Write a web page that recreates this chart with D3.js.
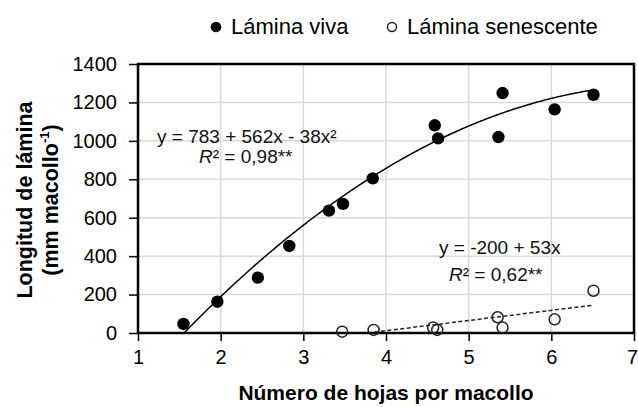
<!DOCTYPE html>
<html>
<head>
<meta charset="utf-8">
<script src="https://cdn.jsdelivr.net/npm/d3@7"></script>
<style>
  html, body { margin: 0; padding: 0; background: #fff; }
  svg { display: block; font-family: "Liberation Sans", Arial, sans-serif; }
</style>
</head>
<body>
<svg id="chart" width="638" height="407"></svg>
<script>
// Leaf blade length vs. number of leaves per tiller
const vivaX = [1.55, 1.96, 2.45, 2.83, 3.31, 3.48, 3.84, 4.59, 4.63, 5.36, 5.41, 6.04, 6.51];
const vivaY = [47, 163, 288, 453, 637, 672, 805, 1081, 1013, 1020, 1249, 1164, 1240];
const senX = [3.47, 3.85, 4.57, 4.62, 5.35, 5.41, 6.04, 6.51];
const senY = [7, 16, 28, 16, 82, 28, 71, 220];

// Fitted trends: quadratic for live blades, linear for senescent blades
const quadCoef = [-783, 562, -38];
const linCoef = [-200, 53];

const xTicks = [1, 2, 3, 4, 5, 6, 7];
const yTicks = [0, 200, 400, 600, 800, 1000, 1200, 1400];
const legendLabels = ["Lámina viva", "Lámina senescente"];

const svg = d3.select("#chart");
const plotL = 138, plotR = 634, plotT = 64, plotB = 333;

const x = d3.scaleLinear().domain([1, 7]).range([plotL, plotR]);
const y = d3.scaleLinear().domain([0, 1400]).range([plotB, plotT]);

// Clip region for trend lines
svg.append("defs").append("clipPath").attr("id", "plotClip")
  .append("rect").attr("x", plotL).attr("y", plotT)
  .attr("width", plotR - plotL).attr("height", plotB - plotT);

// Gridlines
const grid = svg.append("g");
grid.selectAll("line.h").data(yTicks.slice(1, -1)).join("line")
  .attr("class", "h")
  .attr("x1", plotL).attr("x2", plotR)
  .attr("y1", d => y(d)).attr("y2", d => y(d))
  .attr("stroke", "#d9d9d9").attr("stroke-width", 1.5);
grid.selectAll("line.v").data(xTicks.slice(1, -1)).join("line")
  .attr("class", "v")
  .attr("y1", plotT).attr("y2", plotB)
  .attr("x1", d => x(d)).attr("x2", d => x(d))
  .attr("stroke", "#d9d9d9").attr("stroke-width", 1.5);

// Axes (ticks and labels)
const xAxis = svg.append("g").attr("transform", `translate(0,${plotB})`)
  .call(d3.axisBottom(x).tickValues(xTicks).tickSize(8).tickPadding(9).tickFormat(d3.format("d")));
xAxis.select(".domain").remove();
xAxis.selectAll("line").attr("stroke", "#000").attr("stroke-width", 1.5);
xAxis.selectAll("text").attr("font-size", 20).attr("fill", "#000")
  .attr("font-family", "Liberation Sans, Arial, sans-serif");
// keep the last label inside the canvas
xAxis.selectAll(".tick").filter(d => d === 7).select("text").attr("dx", -2);

const yAxis = svg.append("g").attr("transform", `translate(${plotL},0)`)
  .call(d3.axisLeft(y).tickValues(yTicks).tickSize(9).tickPadding(12).tickFormat(d3.format("d")));
yAxis.select(".domain").remove();
yAxis.selectAll("line").attr("stroke", "#000").attr("stroke-width", 1.5);
yAxis.selectAll("text").attr("font-size", 20).attr("fill", "#000")
  .attr("font-family", "Liberation Sans, Arial, sans-serif");

// Trend lines
const quad = v => quadCoef[0] + quadCoef[1] * v + quadCoef[2] * v * v;
const lin = v => linCoef[0] + linCoef[1] * v;
const quadPts = d3.range(d3.min(vivaX), d3.max(vivaX) + 0.001, 0.02).map(v => [v, quad(v)]);
const linPts = [d3.min(senX), d3.max(senX)].map(v => [v, lin(v)]);
const line = d3.line().x(d => x(d[0])).y(d => y(d[1]));

const trends = svg.append("g").attr("clip-path", "url(#plotClip)");
trends.append("path").attr("d", line(quadPts))
  .attr("fill", "none").attr("stroke", "#000").attr("stroke-width", 1.5);
trends.append("path").attr("d", line(linPts))
  .attr("fill", "none").attr("stroke", "#222").attr("stroke-width", 1.5)
  .attr("stroke-dasharray", "4,2.5");

// Plot border
svg.append("rect").attr("x", plotL).attr("y", plotT)
  .attr("width", plotR - plotL).attr("height", plotB - plotT)
  .attr("fill", "none").attr("stroke", "#000").attr("stroke-width", 2.5);

// Points
svg.append("g").selectAll("circle").data(senX.map((v, i) => [v, senY[i]])).join("circle")
  .attr("cx", d => x(d[0])).attr("cy", d => y(d[1])).attr("r", 5.5)
  .attr("fill", "none").attr("stroke", "#222").attr("stroke-width", 1.5);
svg.append("g").selectAll("circle").data(vivaX.map((v, i) => [v, vivaY[i]])).join("circle")
  .attr("cx", d => x(d[0])).attr("cy", d => y(d[1])).attr("r", 6.2)
  .attr("fill", "#000");

// Equations
const eq = svg.append("g").attr("font-size", 19).attr("fill", "#111");
eq.append("text").attr("x", 157).attr("y", 143).text("y = 783 + 562x - 38x²");
const r1 = eq.append("text").attr("x", 199).attr("y", 163);
r1.append("tspan").attr("font-style", "italic").text("R");
r1.append("tspan").text("² = 0,98**");
eq.append("text").attr("x", 439).attr("y", 254).text("y = -200 + 53x");
const r2 = eq.append("text").attr("x", 449).attr("y", 281);
r2.append("tspan").attr("font-style", "italic").text("R");
r2.append("tspan").text("² = 0,62**");

// Legend
const lg = svg.append("g").attr("font-size", 22).attr("fill", "#000");
lg.append("circle").attr("cx", 216).attr("cy", 27).attr("r", 5.3).attr("fill", "#000");
lg.append("text").attr("x", 231).attr("y", 34).text(legendLabels[0]);
lg.append("circle").attr("cx", 392).attr("cy", 27).attr("r", 4.5)
  .attr("fill", "none").attr("stroke", "#222").attr("stroke-width", 1.5);
lg.append("text").attr("x", 407).attr("y", 34).text(legendLabels[1]);

// Axis titles
svg.append("text").attr("x", 386).attr("y", 400).attr("text-anchor", "middle")
  .attr("font-size", 21).attr("font-weight", "bold").attr("fill", "#000")
  .text("Número de hojas por macollo");

const yt = svg.append("g").attr("transform", "translate(0,200) rotate(-90)")
  .attr("font-weight", "bold").attr("font-size", 21.5).attr("fill", "#000")
  .attr("text-anchor", "middle");
yt.append("text").attr("x", 0).attr("y", 32).text("Longitud de lámina");
const yt2 = yt.append("text").attr("x", 0).attr("y", 58);
yt2.append("tspan").text("(mm macollo");
yt2.append("tspan").attr("font-size", 13).attr("dy", -9).text("-1");
yt2.append("tspan").attr("dy", 9).text(")");
</script>
</body>
</html>
